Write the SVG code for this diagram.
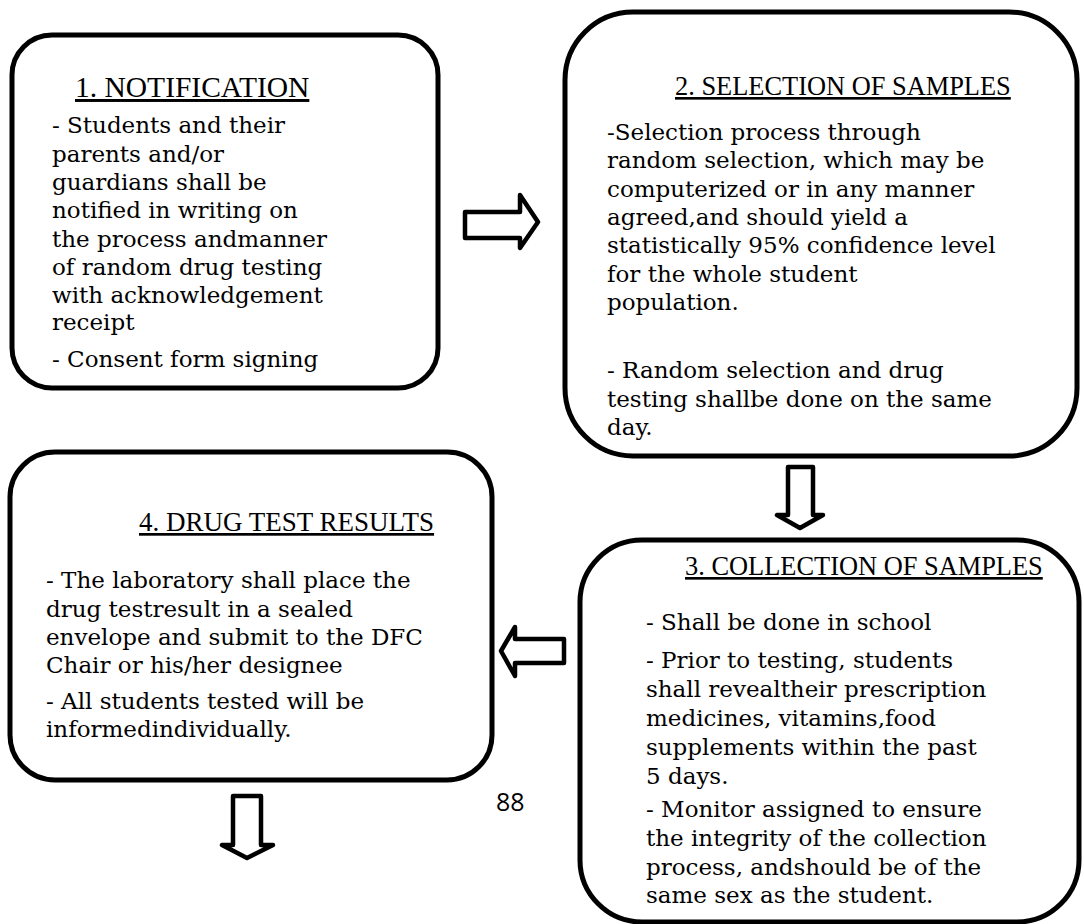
<svg xmlns="http://www.w3.org/2000/svg" width="1084" height="924" viewBox="0 0 1084 924">
<style>
.box{fill:#fff;stroke:#000;stroke-width:5}
.arr{fill:#fff;stroke:#000;stroke-width:4.5;stroke-linejoin:round}
.h{font-family:"Liberation Serif",serif;font-size:26.4px;text-decoration:underline;fill:#000}
.b{font-family:"DejaVu Serif",serif;font-size:23px;fill:#000}
.pg{font-family:"Open Sans",sans-serif;font-size:25px;fill:#000}
</style>
<rect width="1084" height="924" fill="#fff"/>
<g id="connectors">
<path class="arr" d="M465,212 L520,212 L520,195 L538,222 L520,248 L520,238 L465,238 Z"/>
<path class="arr" d="M788,467 L813,467 L813,515 L823,515 L800,528 L777,515 L788,515 Z"/>
<path class="arr" d="M564,639 L515,639 L515,627 L501,651 L515,676 L515,663 L564,663 Z"/>
<path class="arr" d="M233,796 L261,796 L261,845 L273,845 L247,858 L222,845 L233,845 Z"/>
</g>
<g id="node1">
<rect class="box" x="12" y="35" width="426" height="353" rx="40"/>
<text class="h" x="75" y="97" style="font-size:29.5px">1. NOTIFICATION</text>
<text class="b" x="52" y="133">- Students and their</text>
<text class="b" x="52" y="162">parents and/or</text>
<text class="b" x="52" y="190">guardians shall be</text>
<text class="b" x="52" y="218">notified in writing on</text>
<text class="b" x="52" y="247">the process andmanner</text>
<text class="b" x="52" y="275">of random drug testing</text>
<text class="b" x="52" y="303">with acknowledgement</text>
<text class="b" x="52" y="330">receipt</text>
<text class="b" x="52" y="367">- Consent form signing</text>
</g>
<g id="node2">
<rect class="box" x="565" y="12" width="512" height="444" rx="68"/>
<text class="h" x="675" y="95">2. SELECTION OF SAMPLES</text>
<text class="b" x="607" y="140">-Selection process through</text>
<text class="b" x="607" y="168">random selection, which may be</text>
<text class="b" x="607" y="197">computerized or in any manner</text>
<text class="b" x="607" y="225">agreed,and should yield a</text>
<text class="b" x="607" y="253">statistically 95% confidence level</text>
<text class="b" x="607" y="282">for the whole student</text>
<text class="b" x="607" y="310">population.</text>
<text class="b" x="607" y="378">- Random selection and drug</text>
<text class="b" x="607" y="407">testing shallbe done on the same</text>
<text class="b" x="607" y="435">day.</text>
</g>
<g id="node3">
<rect class="box" x="580" y="540" width="499" height="382" rx="62"/>
<text class="h" x="685" y="575">3. COLLECTION OF SAMPLES</text>
<text class="b" x="646" y="630">- Shall be done in school</text>
<text class="b" x="646" y="668">- Prior to testing, students</text>
<text class="b" x="646" y="697">shall revealtheir prescription</text>
<text class="b" x="646" y="726">medicines, vitamins,food</text>
<text class="b" x="646" y="755">supplements within the past</text>
<text class="b" x="646" y="784">5 days.</text>
<text class="b" x="646" y="817">- Monitor assigned to ensure</text>
<text class="b" x="646" y="846">the integrity of the collection</text>
<text class="b" x="646" y="875">process, andshould be of the</text>
<text class="b" x="646" y="903">same sex as the student.</text>
</g>
<g id="node4">
<rect class="box" x="10" y="452" width="482" height="328" rx="45"/>
<text class="h" x="139" y="531" style="font-size:27px">4. DRUG TEST RESULTS</text>
<text class="b" x="46" y="588">- The laboratory shall place the</text>
<text class="b" x="46" y="617">drug testresult in a sealed</text>
<text class="b" x="46" y="645">envelope and submit to the DFC</text>
<text class="b" x="46" y="673">Chair or his/her designee</text>
<text class="b" x="46" y="709">- All students tested will be</text>
<text class="b" x="46" y="737">informedindividually.</text>
</g>
<text class="pg" x="496" y="811">88</text>
</svg>
